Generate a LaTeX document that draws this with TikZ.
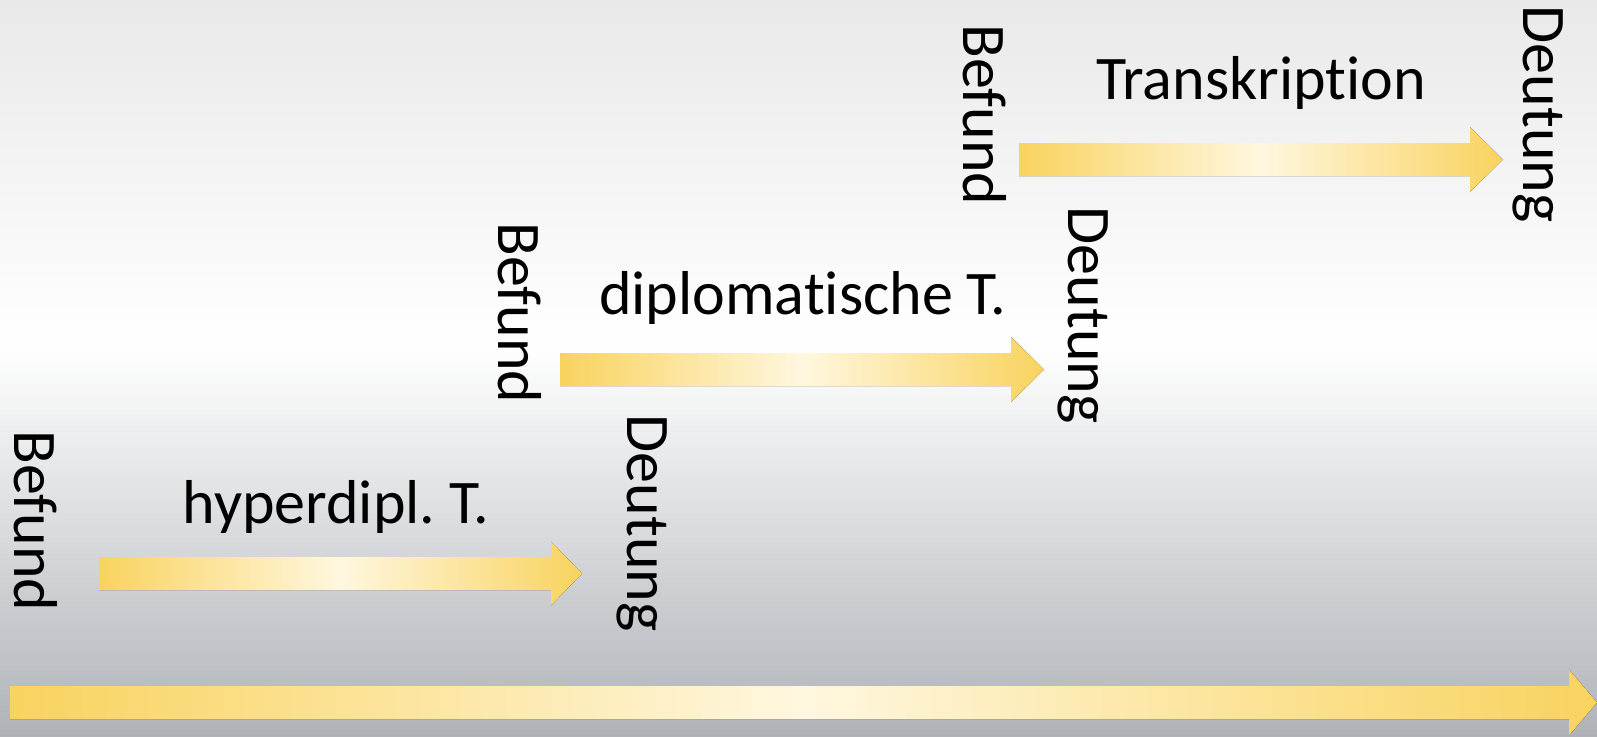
\documentclass[tikz,border=0pt]{standalone}
\usepackage{fontspec}
\setmainfont[Ligatures={CommonOff}]{Carlito}
\frenchspacing
\definecolor{gold}{HTML}{F9D35F}
\definecolor{cream}{HTML}{FFF7DF}
\definecolor{bgtop}{HTML}{E9E9E9}
\definecolor{bgbot}{HTML}{AFB3B8}
\newcommand{\goldarrow}[6]{%
  \fill[goldfill] (#1,{#4-#5}) -- (#2,{#4-#5}) -- (#2,{#4-#6}) -- (#3,#4)
    -- (#2,{#4+#6}) -- (#2,{#4+#5}) -- (#1,{#4+#5}) -- cycle;}
\begin{document}
\begin{tikzpicture}[x=0.5pt,y=-0.5pt,
  lbl/.style={font=\fontsize{31pt}{37pt}\selectfont, inner sep=0pt, anchor=base, text=black},
  vlbl/.style={lbl, rotate=-90},
  goldfill/.style={left color=gold, right color=gold, middle color=cream, draw=none}]
\useasboundingbox (0,0) rectangle (1597,736);
% background
\fill[top color=bgtop, bottom color=white] (0,0) rectangle (1597,346);
\fill[top color=white, bottom color=bgbot] (0,345) rectangle (1597,736);
% row 1
\node[vlbl] (bef1) at (15,521) {Befund};
\node[lbl] (lab1) at (336,523) {hyperdipl. T.};
\node[vlbl] (deu1) at (627,523) {Deutung};
\goldarrow{99}{551}{582}{573.5}{16.5}{32}
% row 2
\node[vlbl] (bef2) at (498,313) {Befund};
\node[lbl] (lab2) at (803,314) {diplomatische T.};
\node[vlbl] (deu2) at (1068,315) {Deutung};
\goldarrow{560}{1011}{1044}{369.5}{16.5}{32.5}
% row 3
\node[vlbl] (bef3) at (963,115) {Befund};
\node[lbl] (lab3) at (1261,99) {Transkription};
\node[vlbl] (deu3) at (1523,114) {Deutung};
\goldarrow{1019}{1470}{1503}{159.5}{16.5}{32.5}
% bottom arrow
\goldarrow{10}{1569}{1597}{702.5}{16.5}{33}
\end{tikzpicture}
\end{document}
